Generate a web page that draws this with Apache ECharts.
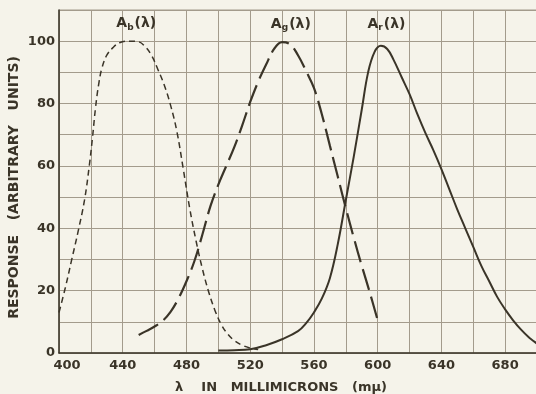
<!DOCTYPE html>
<html>
<head>
<meta charset="utf-8">
<script src="https://cdn.jsdelivr.net/npm/echarts@6/dist/echarts.min.js"></script>
<style>
html,body{margin:0;padding:0;background:#f5f3ea;}
#chart{width:536px;height:394px;}
</style>
</head>
<body>
<div id="chart"></div>
<script>
// Wavelength (nm) / response pairs
const blueCurve = [[400,13],[404,21],[408,30],[412,39],[416,49],[419,60],[421,69],[423,79],[425,86.5],[427,91.5],[430,95.5],[434,98],[438,99.5],[444,100],[450,99.8],[454,98.3],[458,95.5],[462,91],[466,86],[470,79.5],[474,71],[478,59],[482,46.5],[486,36],[490,27],[494,19.5],[498,13.5],[502,9],[506,6],[510,4],[515,2.5],[520,1.6],[525,1.1]];
const greenCurve = [[450,5.8],[455,7.1],[460,8.5],[465,10.3],[470,13.2],[475,17.5],[480,23],[485,29.5],[490,38],[495,47],[500,54],[505,60],[510,66],[515,73],[520,80.5],[525,87],[530,92.5],[535,97.5],[540,99.7],[545,99],[550,95.5],[555,90.5],[560,85],[565,76.5],[570,66.5],[575,56.5],[580,46.5],[585,37],[590,28],[595,19.5],[600,10.5]];
const redCurve = [[500,0.8],[510,0.9],[520,1.2],[530,2.5],[540,4.4],[550,7],[555,9.5],[560,13],[565,17.5],[570,24],[575,35],[580,49],[585,63],[590,78],[594,90],[598,96.5],[602,98.5],[606,97.5],[610,94],[615,88.5],[620,83],[625,76.5],[630,70.5],[635,65],[640,59],[645,52.5],[650,46],[655,40],[660,34],[665,28],[670,23],[675,18],[680,14],[685,10.5],[690,7.5],[695,5],[700,3]];
const annotations = [
  {sub:'b', x:448.5, y:105.6},
  {sub:'g', x:545.5, y:105.4},
  {sub:'r', x:605.5, y:105.4}
];
const xTitle = 'λ    IN   MILLIMICRONS   (mμ)';
const yTitle = 'RESPONSE   (ARBITRARY   UNITS)';

const ink = '#3a3428';
const gridCol = '#a39b8c';
const font = 'DejaVu Sans';

const chart = echarts.init(document.getElementById('chart'));
chart.setOption({
  backgroundColor: '#f5f3ea',
  animation: false,
  grid: {left:59, top:10, width:478, height:343, show:true, borderColor:gridCol, borderWidth:1,
         containLabel:false, outerBoundsMode:'none'},
  xAxis: {
    type:'value', min:400, max:700, interval:20,
    axisLine:{show:true, lineStyle:{color:ink, width:1.5}},
    axisTick:{show:false},
    splitLine:{show:true, lineStyle:{color:gridCol, width:1}},
    axisLabel:{
      color:ink, fontFamily:font, fontSize:13, fontWeight:'bold', margin:6,
      formatter: v => v % 40 === 0 ? (v === 400 ? '{f|' + v + '}' : String(v)) : '',
      rich:{f:{color:ink, fontFamily:font, fontSize:13, fontWeight:'bold', padding:[0,0,0,16]}}
    },
    name: xTitle, nameLocation:'middle', nameGap:28, nameMoveOverlap:false,
    nameTextStyle:{color:ink, fontFamily:font, fontSize:13, fontWeight:'bold', padding:[0,34,0,0]}
  },
  yAxis: {
    type:'value', min:0, max:110, interval:10,
    axisLine:{show:true, lineStyle:{color:ink, width:1.5}},
    axisTick:{show:false},
    splitLine:{show:true, lineStyle:{color:gridCol, width:1}},
    axisLabel:{
      color:ink, fontFamily:font, fontSize:13, fontWeight:'bold', margin:4,
      formatter: v => (v % 20 === 0 && v <= 100) ? String(v) : ''
    },
    name: yTitle, nameLocation:'middle', nameGap:38, nameRotate:90, nameMoveOverlap:false,
    nameTextStyle:{color:ink, fontFamily:font, fontSize:14, fontWeight:'bold', padding:[0,12,0,0]}
  },
  series: [
    {type:'line', data:blueCurve, smooth:0.4, symbol:'none',
     lineStyle:{color:ink, width:1.5, type:[6,4]}},
    {type:'line', data:greenCurve, smooth:0.4, symbol:'none',
     lineStyle:{color:ink, width:2.2, type:[22,7]}},
    {type:'line', data:redCurve, smooth:0.4, symbol:'none',
     lineStyle:{color:ink, width:2}},
    {type:'scatter', symbolSize:0, silent:true, itemStyle:{opacity:1, color:ink},
     data: annotations.map(a => ({value:[a.x, a.y], sub:a.sub})),
     label:{show:true, position:'inside', color:ink, textBorderWidth:0, fontFamily:font,
       formatter: p => '{a|A}{s|' + p.data.sub + '}{a|(λ)}',
       rich:{
         a:{fontSize:14, fontWeight:'bold', color:ink, fontFamily:font, textBorderWidth:0},
         s:{fontSize:9, color:ink, fontFamily:font, fontWeight:'bold', textBorderWidth:0, padding:[7,1,0,0]}
       }}
    }
  ]
});
</script>
</body>
</html>
